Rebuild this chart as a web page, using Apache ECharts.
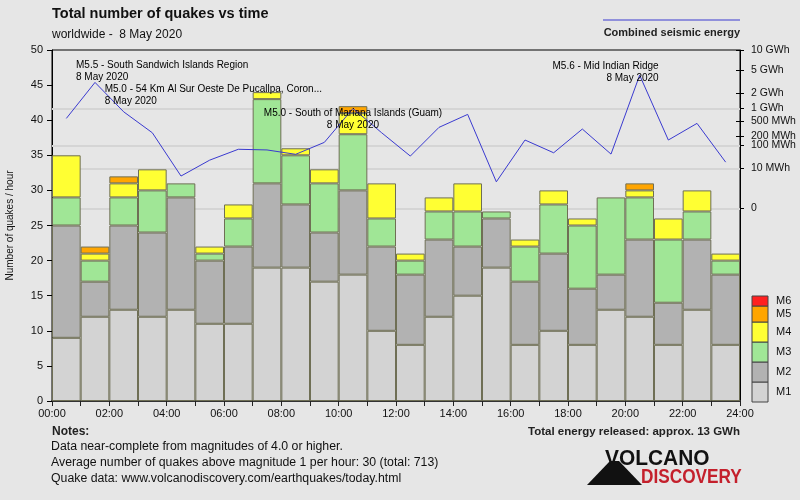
<!DOCTYPE html>
<html><head><meta charset="utf-8">
<script src="https://cdn.jsdelivr.net/npm/echarts@6/dist/echarts.min.js"></script>
<style>html,body{margin:0;padding:0;background:#e6e6e6}#c{width:800px;height:500px}</style>
</head><body><div id="c"></div>
<script>
// ---- data ----
const hours = ['00','01','02','03','04','05','06','07','08','09','10','11','12','13','14','15','16','17','18','19','20','21','22','23'];
const xTickLabels = ['00:00','02:00','04:00','06:00','08:00','10:00','12:00','14:00','16:00','18:00','20:00','22:00','24:00'];
const magNames = ['M1','M2','M3','M4','M5','M6'];
const m1 = [9,12,13,12,13,11,11,19,19,17,18,10,8,12,15,19,8,10,8,13,12,8,13,8];
const m2 = [16,5,12,12,16,9,11,12,9,7,12,12,10,11,7,7,9,11,8,5,11,6,10,10];
const m3 = [4,3,4,6,2,1,4,12,7,7,8,4,2,4,5,1,5,7,9,11,6,9,4,2];
const m4 = [6,1,2,3,0,1,2,1,1,2,3,5,1,2,4,0,1,2,1,0,1,3,3,1];
const m5 = [0,1,1,0,0,0,0,0,0,0,1,0,0,0,0,0,0,0,0,0,1,0,0,0];
const m6 = [0,0,0,0,0,0,0,0,0,0,0,0,0,0,0,0,0,0,0,0,0,0,0,0];
// combined seismic energy per hour, MWh
const energyMWh = [590,3180,841,247,3.5,26,72,68,46,125,1000,247,39,349,734,1.3,149,53,314,47,4210,149,444,21];
const rightTickMWh = [10000,5000,2000,1000,500,200,100,10,0];
const rightTickLabels = ['10 GWh','5 GWh','2 GWh','1 GWh','500 MWh','200 MWh','100 MWh','10 MWh','0'];
const gridLineMWh = [1000,100,10,0];
const annotations = [
  {hour: 1, text: 'M5.5 - South Sandwich Islands Region\n8 May 2020'},
  {hour: 2, text: 'M5.0 - 54 Km Al Sur Oeste De Pucallpa, Coron...\n8 May 2020'},
  {hour: 10, text: 'M5.0 - South of Mariana Islands (Guam)\n8 May 2020'},
  {hour: 20, text: 'M5.6 - Mid Indian Ridge\n8 May 2020'}
];
const notes = ['Data near-complete from magnitudes of 4.0 or higher.',
  'Average number of quakes above magnitude 1 per hour: 30 (total: 713)',
  'Quake data: www.volcanodiscovery.com/earthquakes/today.html'];

// ---- build ----
const FONT = 'Liberation Sans';
const magColors = ['#d3d3d3','#b2b2b2','#a0e696','#ffff33','#ffa500','#ff2020'];
const magData = [m1,m2,m3,m4,m5,m6];
const toAxis = mwh => Math.pow(mwh/1000, 0.2);   // fifth-root energy scale (GWh)
const energyV = energyMWh.map(toAxis);
const rTicks = rightTickMWh.map(toAxis);
const rMax = toAxis(10000), rMin = -1.93;

const barSeries = magData.map((arr, i) => ({
  name: magNames[i], type: 'bar', stack: 'q', xAxisIndex: 0, yAxisIndex: 0,
  barWidth: '100%', barCategoryGap: 0, z: 2,
  data: arr.map(v => v === 0 ? null : v),
  itemStyle: {color: magColors[i], borderColor: '#6f6f55', borderWidth: 1},
  emphasis: {disabled: true}
}));

const labelStyles = {
  1: {align: 'left', verticalAlign: 'bottom', offset: [-19, 1]},
  2: {align: 'left', verticalAlign: 'bottom', offset: [-19, -5]},
  10: {align: 'center', verticalAlign: 'top', offset: [0, -1]},
  20: {align: 'right', verticalAlign: 'bottom', offset: [19, 9]}
};

const option = {
  backgroundColor: '#e6e6e6',
  animation: false,
  title: {text: 'Total number of quakes vs time', subtext: 'worldwide -  8 May 2020',
    left: 47, top: 1, itemGap: 8,
    textStyle: {fontFamily: FONT, fontWeight: 'bold', fontSize: 14.5, color: '#111'},
    subtextStyle: {fontFamily: FONT, fontSize: 12, color: '#111'}},
  grid: {left: 52, right: 60, top: 50, bottom: 99, outerBoundsMode: 'none', containLabel: false,
    show: true, borderColor: '#000', borderWidth: 1, backgroundColor: 'transparent'},
  xAxis: [
    {type: 'category', data: hours, boundaryGap: true, position: 'bottom',
     axisLine: {lineStyle: {color: '#333', width: 2}},
     axisTick: {show: true, interval: 0, length: 5, lineStyle: {color: '#222'}},
     axisLabel: {show: false}, splitLine: {show: false}},
    {type: 'value', min: 0, max: 24, interval: 2, position: 'bottom',
     axisLine: {show: false}, axisTick: {show: false}, splitLine: {show: false},
     axisLabel: {margin: 7, fontFamily: FONT, fontSize: 11, color: '#111',
       formatter: v => xTickLabels[Math.round(v/2)]}}
  ],
  yAxis: [
    {type: 'value', min: 0, max: 50, interval: 5, position: 'left',
     name: 'Number of quakes / hour', nameLocation: 'middle', nameRotate: 90, nameGap: 37,
     nameTextStyle: {fontFamily: FONT, fontSize: 10, color: '#111'},
     axisLine: {show: true, lineStyle: {color: '#000'}},
     axisTick: {show: true, length: 5, lineStyle: {color: '#000'}},
     axisLabel: {margin: 9, fontFamily: FONT, fontSize: 11, color: '#111'},
     splitLine: {show: false}},
    {type: 'value', min: rMin, max: rMax, position: 'right',
     axisLine: {show: true, lineStyle: {color: '#000'}},
     axisTick: {show: true, length: 4, customValues: rTicks, lineStyle: {color: '#000'}},
     axisLabel: {margin: 11, fontFamily: FONT, fontSize: 10.5, color: '#111', customValues: rTicks,
       formatter: v => { const i = rTicks.findIndex(t => Math.abs(t - v) < 1e-6); return i >= 0 ? rightTickLabels[i] : ''; }},
     splitLine: {show: false}},
    {type: 'value', min: rMin, max: rMax, position: 'right',
     axisLine: {show: false},
     axisTick: {show: true, inside: true, length: 4, customValues: rTicks, lineStyle: {color: '#000'}},
     axisLabel: {show: false}, splitLine: {show: false}}
  ],
  series: [
    {type: 'line', xAxisIndex: 0, yAxisIndex: 1, data: [], z: 1, silent: true,
     markLine: {silent: true, z: 1, symbol: 'none', label: {show: false},
       lineStyle: {color: '#d5d5d5', width: 2, type: 'solid'},
       data: gridLineMWh.map(m => ({yAxis: toAxis(m)}))}},
    ...barSeries,
    {type: 'line', name: 'Combined seismic energy', xAxisIndex: 0, yAxisIndex: 1, z: 5,
     data: energyV, symbol: 'none', lineStyle: {color: '#3a3ad0', width: 1}, silent: true},
    {type: 'scatter', xAxisIndex: 0, yAxisIndex: 1, z: 6, symbolSize: 1, silent: true,
     itemStyle: {color: 'rgba(0,0,0,0)', opacity: 1},
     data: annotations.map(a => ({value: [a.hour, energyV[a.hour]],
       label: Object.assign({show: true, position: 'inside', formatter: a.text, opacity: 1,
         fontFamily: FONT, fontSize: 10, lineHeight: 12, color: '#000'}, labelStyles[a.hour])}))}
  ],
  graphic: []
};

// legend (magnitude classes) and decorations
const legendHeights = [20,20,20,20,16,10]; // M1..M6 box heights (style)
let yb = 402;
const legendEls = [];
for (let i = 0; i < magNames.length; i++) {
  const h = legendHeights[i];
  yb -= h;
  legendEls.push({type: 'rect', shape: {x: 752, y: yb, width: 16, height: h},
    style: {fill: magColors[i], stroke: '#444', lineWidth: 1}});
  legendEls.push({type: 'text', x: 776, y: yb + h/2,
    style: {text: magNames[i], fontFamily: FONT, fontSize: 11, fill: '#111', textVerticalAlign: 'middle'}});
}
option.graphic = [
  ...legendEls,
  {type: 'line', shape: {x1: 603, y1: 20, x2: 740, y2: 20}, style: {stroke: '#3a3ad0', lineWidth: 1}},
  {type: 'text', x: 740, y: 33, style: {text: 'Combined seismic energy', fontFamily: FONT, fontWeight: 'bold', fontSize: 11, fill: '#222', textAlign: 'right', textVerticalAlign: 'middle'}},
  {type: 'text', x: 52, y: 432, style: {text: 'Notes:', fontFamily: FONT, fontWeight: 'bold', fontSize: 12, fill: '#222', textVerticalAlign: 'middle'}},
  ...notes.map((t, i) => ({type: 'text', x: 51, y: 447 + i*16, style: {text: t, fontFamily: FONT, fontSize: 12.3, fill: '#111', textVerticalAlign: 'middle'}})),
  {type: 'text', x: 740, y: 432, style: {text: 'Total energy released: approx. 13 GWh', fontFamily: FONT, fontWeight: 'bold', fontSize: 11.5, fill: '#222', textAlign: 'right', textVerticalAlign: 'middle'}},
  {type: 'polygon', shape: {points: [[587,485],[610,461],[619,461],[642,485]]}, style: {fill: '#111'}},
  {type: 'text', x: 605, y: 459, scaleX: 0.95, style: {text: 'VOLCANO', fontFamily: FONT, fontWeight: 'bold', fontSize: 22, fill: '#111', textVerticalAlign: 'middle'}},
  {type: 'text', x: 641, y: 477, scaleX: 0.82, style: {text: 'DISCOVERY', fontFamily: FONT, fontWeight: 'bold', fontSize: 21, fill: '#c4202c', textVerticalAlign: 'middle'}}
];

const chart = echarts.init(document.getElementById('c'), null, {renderer: 'canvas'});
chart.setOption(option);
</script></body></html>
